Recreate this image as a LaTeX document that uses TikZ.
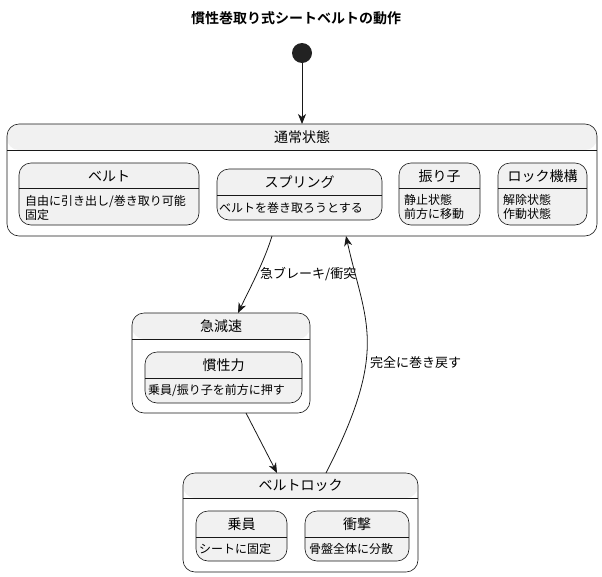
\documentclass[tikz,border=0pt]{standalone}
\usepackage{fontspec}
\setmainfont{Noto Sans CJK JP}[BoldFont={Noto Sans CJK JP Bold}]
\usetikzlibrary{arrows.meta,calc}
\definecolor{stategray}{HTML}{F1F1F1}
\definecolor{linec}{HTML}{181818}
\definecolor{startc}{HTML}{222222}

\tikzset{
  sstate/.style={draw=linec, fill=stategray, rounded corners=12pt, line width=0.6pt,
    inner sep=0pt, outer sep=0pt,
    path picture={\draw[linec, line width=0.6pt]
      ([yshift=-#1]path picture bounding box.north west) --
      ([yshift=-#1]path picture bounding box.north east);}},
  cstate/.style={draw=linec, fill=white, rounded corners=12pt, line width=0.6pt,
    inner sep=0pt, outer sep=0pt,
    path picture={\fill[stategray] (path picture bounding box.north west) rectangle
      ([yshift=-#1]path picture bounding box.north east);
      \draw[linec, line width=0.6pt]
      ([yshift=-#1]path picture bounding box.north west) --
      ([yshift=-#1]path picture bounding box.north east);}},
  sname/.style={font=\fontsize{14}{16}\selectfont, inner sep=0pt},
  sdesc/.style={font=\fontsize{12}{14}\selectfont, align=left, anchor=west, inner sep=0pt},
  elabel/.style={font=\fontsize{13}{15}\selectfont, anchor=west, inner sep=0pt},
  arr/.style={draw=linec, line width=0.8pt, -{Stealth[length=10pt,width=8pt,inset=3pt]}}
}

\begin{document}
\begin{tikzpicture}[x=1pt,y=-1pt]
\useasboundingbox (0,0) rectangle (602,576);

% title
\node[font=\bfseries\fontsize{14}{16}\selectfont] (title) at (296,18) {慣性巻取り式シートベルトの動作};

% start point
\node[circle, fill=startc, minimum size=20pt, inner sep=0pt] (start) at (302,53) {};

% normal state
\node[cstate=26pt, minimum width=590pt, minimum height=112pt] (normal) at (302,180) {};
\node[sname] (normalname) at ([yshift=-13pt]normal.north) {通常状態};

\node[sstate=25pt, minimum width=180pt, minimum height=62pt] (belt) at (109,194) {};
\node[sname] (beltname) at ([yshift=-13pt]belt.north) {ベルト};
\node[sdesc] (beltdesc) at (25,208) {自由に引き出し/巻き取り可能\\固定};

\node[sstate=26pt, minimum width=165pt, minimum height=51pt] (spring) at (299.5,194.5) {};
\node[sname] (springname) at ([yshift=-13.5pt]spring.north) {スプリング};
\node[sdesc] (springdesc) at (219,208) {ベルトを巻き取ろうとする};

\node[sstate=25pt, minimum width=81pt, minimum height=62pt] (pendulum) at (439.5,194) {};
\node[sname] (pendulumname) at ([yshift=-13pt]pendulum.north) {振り子};
\node[sdesc] (pendulumdesc) at (404,207) {静止状態\\前方に移動};

\node[sstate=25pt, minimum width=89pt, minimum height=62pt] (lockmech) at (542.5,194) {};
\node[sname] (lockmechname) at ([yshift=-13pt]lockmech.north) {ロック機構};
\node[sdesc] (lockmechdesc) at (503,207) {解除状態\\作動状態};

% sudden deceleration
\node[cstate=26pt, minimum width=178pt, minimum height=100pt] (decel) at (221,363) {};
\node[sname] (decelname) at ([yshift=-13pt]decel.north) {急減速};

\node[sstate=26pt, minimum width=157pt, minimum height=51pt] (inertia) at (223.5,377.5) {};
\node[sname] (inertianame) at ([yshift=-13pt]inertia.north) {慣性力};
\node[sdesc] (inertiadesc) at (148,390) {乗員/振り子を前方に押す};

% belt lock
\node[cstate=25pt, minimum width=235pt, minimum height=99pt] (beltlock) at (300.5,522.5) {};
\node[sname] (beltlockname) at ([yshift=-12.5pt]beltlock.north) {ベルトロック};

\node[sstate=26pt, minimum width=91pt, minimum height=50pt] (occupant) at (241.5,536) {};
\node[sname] (occupantname) at ([yshift=-13pt]occupant.north) {乗員};
\node[sdesc] (occupantdesc) at (199,549) {シートに固定};

\node[sstate=26pt, minimum width=104pt, minimum height=50pt] (impact) at (357,536) {};
\node[sname] (impactname) at ([yshift=-13pt]impact.north) {衝撃};
\node[sdesc] (impactdesc) at (309,549) {骨盤全体に分散};

% transitions
\draw[arr] (start) -- (normal);
\draw[arr] ([xshift=-30pt]normal.south) .. controls (264,262) and (250,288) .. ([xshift=17pt]decel.north);
\node[elabel] (brakelbl) at (260,274) {急ブレーキ/衝突};
\draw[arr] ([xshift=25pt]decel.south) -- ([xshift=-23.5pt]beltlock.north);
\draw[arr] ([xshift=25.5pt]beltlock.north) .. controls (390,348) and (365,322) .. ([xshift=44pt]normal.south);
\node[elabel] (rewindlbl) at (370,363) {完全に巻き戻す};
\end{tikzpicture}
\end{document}
